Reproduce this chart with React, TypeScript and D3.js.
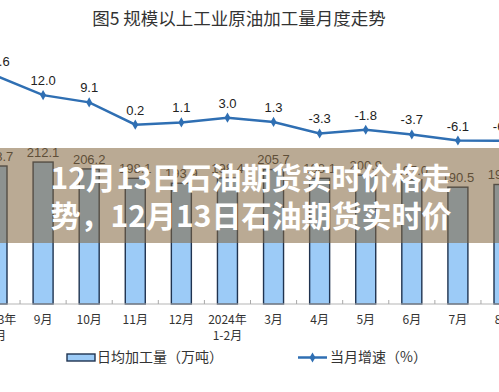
import { useEffect, useRef } from "react";
import * as d3 from "d3";

const W = 499;
const H = 392;

// 月份（第一项和最后一项在原图中被裁掉了一半）
const MONTHS = ["2023年|8月", "9月", "10月", "11月", "12月", "2024年|1-2月", "3月", "4月", "5月", "6月", "7月", "8月"];
// 日均加工量（万吨）
const DAILY = [208.7, 212.1, 206.2, 198.1, 193.9, 198.4, 205.7, 198.1, 200.9, 197.0, 190.5, 192.8];
// 当月增速（%）
const GROWTH = [19.6, 12.0, 9.1, 0.2, 1.1, 3.0, 1.3, -3.3, -1.8, -3.7, -6.1, -6.2];

const TITLE = "图5  规模以上工业原油加工量月度走势";
const BANNER = ["12月13日石油期货实时价格走", "势，12月13日石油期货实时价"];
const LEGEND = ["日均加工量（万吨）", "当月增速（%）"];

const BAR_FILL = "#9ccbf7";
const BAR_STROKE = "#1f3350";
const LINE_COLOR = "#2f6fb3";
const AXIS_Y = 304;
const CJK = "'Noto Sans CJK SC', 'Noto Sans', sans-serif";
const NUM = "'Liberation Sans', Arial, sans-serif";

function draw(svgEl: SVGSVGElement) {
  const svg = d3.select(svgEl);
  svg.selectAll("*").remove();

  const x = d3.scalePoint<string>().domain(MONTHS).range([-3, 504]);
  const yBar = d3.scaleLinear().domain([90, 250]).range([AXIS_Y, 118]);
  const yLine = d3.scaleLinear().domain([-10, 25]).range([150.3, 62.5]);
  const barW = 20;

  svg.append("rect").attr("width", W).attr("height", H).attr("fill", "#fff");

  // 标题
  svg.append("text")
    .attr("x", 239).attr("y", 25)
    .attr("text-anchor", "middle")
    .attr("font-family", CJK).attr("font-size", 17.5)
    .attr("fill", "#333")
    .text(TITLE);

  // 柱
  MONTHS.forEach((m, i) => {
    const cx = x(m)!;
    svg.append("rect")
      .attr("x", cx - barW / 2)
      .attr("y", yBar(DAILY[i]))
      .attr("width", barW)
      .attr("height", AXIS_Y - yBar(DAILY[i]))
      .attr("fill", BAR_FILL)
      .attr("stroke", BAR_STROKE)
      .attr("stroke-width", 1.4);
    svg.append("text")
      .attr("x", cx).attr("y", yBar(DAILY[i]) - 5)
      .attr("text-anchor", "middle")
      .attr("font-family", NUM).attr("font-size", 13)
      .attr("fill", "#333")
      .text(DAILY[i].toFixed(1));
  });

  // 横轴
  svg.append("line")
    .attr("x1", 0).attr("x2", W)
    .attr("y1", AXIS_Y).attr("y2", AXIS_Y)
    .attr("stroke", "#b5b5b5").attr("stroke-width", 1);
  const step = x.step();
  MONTHS.forEach((m) => {
    const tx = x(m)! + step / 2;
    svg.append("line")
      .attr("x1", tx).attr("x2", tx)
      .attr("y1", AXIS_Y).attr("y2", AXIS_Y - 4)
      .attr("stroke", "#aaa");
  });

  // 横轴标签
  MONTHS.forEach((m) => {
    const lines = m.split("|");
    lines.forEach((ln, k) => {
      svg.append("text")
        .attr("x", x(m)!).attr("y", 324 + k * 16)
        .attr("text-anchor", "middle")
        .attr("font-family", CJK).attr("font-size", 12)
        .attr("fill", "#333")
        .text(ln);
    });
  });

  // 折线
  const line = d3.line<number>()
    .x((_, i) => x(MONTHS[i])!)
    .y((d) => yLine(d));
  svg.append("path")
    .datum(GROWTH)
    .attr("d", line)
    .attr("fill", "none")
    .attr("stroke", LINE_COLOR)
    .attr("stroke-width", 2.5);

  const diamond = d3.symbol().type(d3.symbolDiamond).size(30);
  GROWTH.forEach((v, i) => {
    const cx = x(MONTHS[i])!;
    const cy = yLine(v);
    svg.append("path")
      .attr("d", diamond()!)
      .attr("transform", `translate(${cx},${cy})`)
      .attr("fill", LINE_COLOR);
    svg.append("text")
      .attr("x", cx).attr("y", cy - 10)
      .attr("text-anchor", "middle")
      .attr("font-family", NUM).attr("font-size", 13)
      .attr("fill", "#222")
      .text(v.toFixed(1));
  });

  // 图例
  svg.append("rect")
    .attr("x", 67).attr("y", 354)
    .attr("width", 28).attr("height", 7)
    .attr("fill", BAR_FILL)
    .attr("stroke", BAR_STROKE).attr("stroke-width", 1.4);
  svg.append("text")
    .attr("x", 97).attr("y", 362)
    .attr("font-family", CJK).attr("font-size", 14)
    .attr("fill", "#333")
    .text(LEGEND[0]);
  svg.append("line")
    .attr("x1", 298).attr("x2", 327)
    .attr("y1", 357.5).attr("y2", 357.5)
    .attr("stroke", LINE_COLOR).attr("stroke-width", 2.5);
  svg.append("path")
    .attr("d", diamond()!)
    .attr("transform", "translate(312.5,357.5)")
    .attr("fill", LINE_COLOR);
  svg.append("text")
    .attr("x", 330).attr("y", 362)
    .attr("font-family", CJK).attr("font-size", 14)
    .attr("fill", "#333")
    .text(LEGEND[1]);

  // 半透明横幅 + 白色标题
  svg.append("rect")
    .attr("x", 0).attr("y", 148)
    .attr("width", W).attr("height", 95)
    .attr("fill", "rgb(130,100,60)")
    .attr("fill-opacity", 0.55);
  BANNER.forEach((t, k) => {
    svg.append("text")
      .attr("x", 251).attr("y", 189 + k * 38)
      .attr("text-anchor", "middle")
      .attr("font-family", CJK).attr("font-size", 30)
      .attr("font-weight", 700)
      .attr("fill", "#fff")
      .text(t);
  });
}

export default function App() {
  const ref = useRef<SVGSVGElement>(null);
  useEffect(() => {
    if (ref.current) draw(ref.current);
  }, []);
  return (
    <div style={{ position: "absolute", left: 0, top: 0 }}>
      <svg ref={ref} width={W} height={H} style={{ display: "block" }} />
    </div>
  );
}
